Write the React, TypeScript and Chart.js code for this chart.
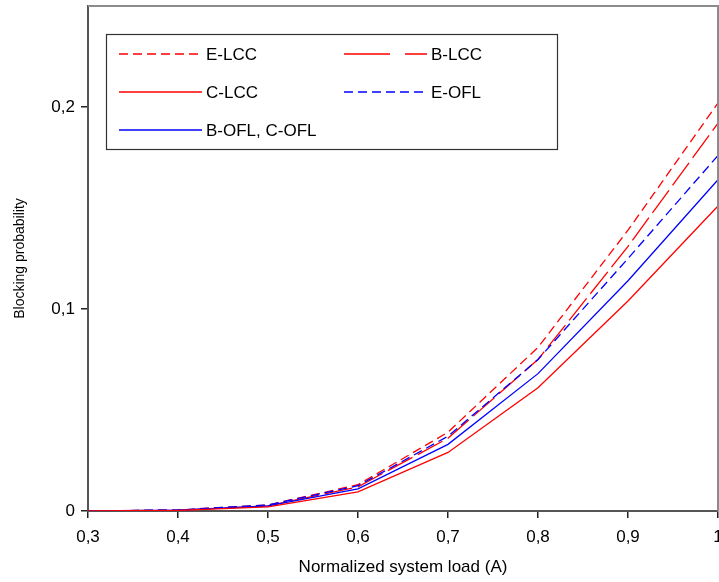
import React, { useEffect, useRef } from "react";
import { Chart, registerables } from "chart.js";

Chart.register(...registerables);

const loads = [0.3, 0.4, 0.5, 0.6, 0.7, 0.8, 0.9, 1.0];
const eLcc = [0, 0.0005, 0.003, 0.013, 0.039, 0.081, 0.139, 0.202];
const bLcc = [0, 0.0004, 0.0025, 0.012, 0.036, 0.075, 0.131, 0.192];
const cLcc = [0, 0.0003, 0.002, 0.0095, 0.029, 0.061, 0.104, 0.151];
const eOfl = [0, 0.0005, 0.003, 0.0125, 0.037, 0.075, 0.125, 0.176];
const bcOfl = [0, 0.0004, 0.0025, 0.011, 0.033, 0.068, 0.114, 0.164];
const xTicks = [0.3, 0.4, 0.5, 0.6, 0.7, 0.8, 0.9, 1.0];
const yTicks = [0, 0.1, 0.2];

const FONT = "'Liberation Sans', Arial, sans-serif";
const RED = "#ff0000";
const BLUE = "#0000ff";

const legendItems = [
  { label: "E-LCC", color: RED, dash: [9, 5], col: 0, row: 0 },
  { label: "B-LCC", color: RED, dash: [46, 15], col: 1, row: 0 },
  { label: "C-LCC", color: RED, dash: [], col: 0, row: 1 },
  { label: "E-OFL", color: BLUE, dash: [9, 5], col: 1, row: 1 },
  { label: "B-OFL, C-OFL", color: BLUE, dash: [], col: 0, row: 2 },
];

const fmt = (v: number) => {
  const r = Math.round(v * 10) / 10;
  if (r === 0) return "0";
  if (r === 1) return "1";
  return r.toFixed(1).replace(".", ",");
};

const framePlugin = {
  id: "frameAndLegend",
  afterDraw(chart: any) {
    const ctx = chart.ctx;
    const a = chart.chartArea;
    ctx.save();
    // top and right frame
    ctx.strokeStyle = "#8c8c8c";
    ctx.lineWidth = 2;
    ctx.beginPath();
    ctx.moveTo(a.left, a.top);
    ctx.lineTo(a.right, a.top);
    ctx.lineTo(a.right, a.bottom);
    ctx.stroke();
    // legend box
    const bx = a.left + 18;
    const by = a.top + 28;
    const bw = 451;
    const bh = 115;
    ctx.fillStyle = "#ffffff";
    ctx.fillRect(bx, by, bw, bh);
    ctx.strokeStyle = "#333333";
    ctx.lineWidth = 1.2;
    ctx.strokeRect(bx + 0.5, by + 0.5, bw, bh);
    ctx.font = `17px ${FONT}`;
    ctx.textBaseline = "middle";
    ctx.textAlign = "left";
    legendItems.forEach((it) => {
      const x0 = bx + 13 + it.col * 225;
      const y0 = by + 20 + it.row * 38;
      ctx.strokeStyle = it.color;
      ctx.lineWidth = 1.3;
      ctx.setLineDash(it.dash);
      ctx.beginPath();
      ctx.moveTo(x0, y0);
      ctx.lineTo(x0 + 83, y0);
      ctx.stroke();
      ctx.setLineDash([]);
      ctx.fillStyle = "#000000";
      ctx.fillText(it.label, x0 + 87, y0 + 1);
    });
    ctx.restore();
  },
};

export default function App() {
  const ref = useRef<HTMLCanvasElement>(null);

  useEffect(() => {
    if (!ref.current) return;
    const mk = (label: string, data: number[], color: string, dash: number[]) => ({
      label,
      data: loads.map((x, i) => ({ x, y: data[i] })),
      borderColor: color,
      backgroundColor: color,
      borderWidth: 1.3,
      borderDash: dash,
      pointRadius: 0,
      tension: 0,
      fill: false,
    });
    const chart = new Chart(ref.current, {
      type: "line",
      data: {
        datasets: [
          mk("C-LCC", cLcc, RED, []),
          mk("B-OFL, C-OFL", bcOfl, BLUE, []),
          mk("E-OFL", eOfl, BLUE, [9, 5]),
          mk("B-LCC", bLcc, RED, [28, 6]),
          mk("E-LCC", eLcc, RED, [9, 5]),
        ],
      },
      options: {
        animation: false,
        responsive: false,
        maintainAspectRatio: false,
        layout: { padding: { left: 0, right: 1, top: 6, bottom: 0 } },
        plugins: { legend: { display: false }, tooltip: { enabled: false } },
        scales: {
          x: {
            type: "linear",
            min: 0.3,
            max: 1.0,
            afterFit: (s: any) => {
              s.height = 71;
              s.paddingLeft = 0;
              s.paddingRight = 0;
            },
            afterBuildTicks: (s: any) => {
              s.ticks = xTicks.map((v) => ({ value: v }));
            },
            ticks: {
              callback: (v: any) => fmt(Number(v)),
              font: { family: FONT, size: 17 },
              color: "#000",
              padding: 9,
              maxRotation: 0,
            },
            grid: {
              display: true,
              drawOnChartArea: false,
              drawTicks: true,
              tickLength: 7,
              color: "#222",
              lineWidth: 1.5,
            },
            border: { display: true, color: "#555", width: 2 },
            title: {
              display: true,
              text: "Normalized system load (A)",
              font: { family: FONT, size: 17 },
              color: "#000",
              padding: { top: 0, bottom: 4 },
            },
          },
          y: {
            type: "linear",
            min: 0,
            max: 0.25,
            afterFit: (s: any) => {
              s.width = 88;
              s.paddingTop = 0;
              s.paddingBottom = 0;
            },
            afterBuildTicks: (s: any) => {
              s.ticks = yTicks.map((v) => ({ value: v }));
            },
            ticks: {
              callback: (v: any) => fmt(Number(v)),
              font: { family: FONT, size: 17 },
              color: "#000",
              padding: 6,
            },
            grid: {
              display: true,
              drawOnChartArea: false,
              drawTicks: true,
              tickLength: 7,
              color: "#222",
              lineWidth: 1.5,
            },
            border: { display: true, color: "#555", width: 2 },
            title: {
              display: true,
              text: "Blocking probability",
              font: { family: FONT, size: 14 },
              color: "#000",
              padding: { top: 12, bottom: 0 },
            },
          },
        },
      },
      plugins: [framePlugin],
    } as any);
    return () => chart.destroy();
  }, []);

  return (
    <div style={{ position: "absolute", left: 0, top: 0, width: 719, height: 582, background: "#fff" }}>
      <canvas ref={ref} width={719} height={582} style={{ display: "block", width: 719, height: 582 }} />
    </div>
  );
}
